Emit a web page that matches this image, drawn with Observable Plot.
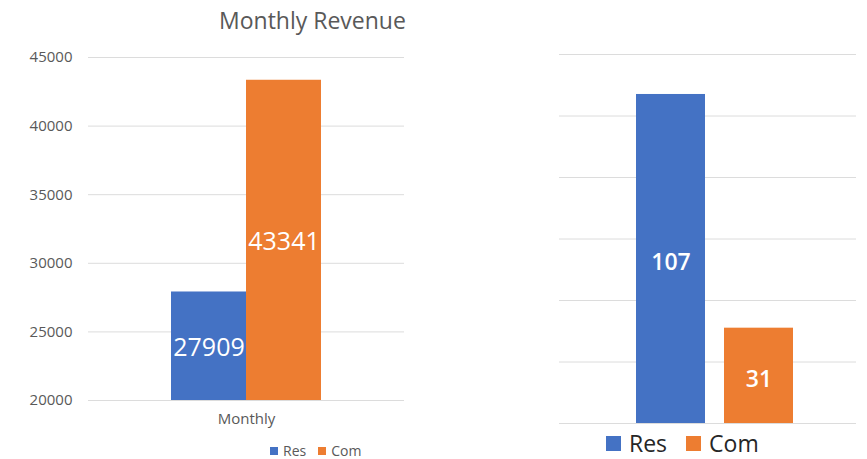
<!DOCTYPE html>
<html><head><meta charset="utf-8">
<script src="https://cdn.jsdelivr.net/npm/d3@7"></script>
<script src="https://cdn.jsdelivr.net/npm/@observablehq/plot@0.6"></script>
<style>
body{margin:0;background:#fff;font-family:"Open Sans",sans-serif;}
#wrap{position:relative;width:867px;height:459px;overflow:hidden;background:#fff;}
#left,#right{position:absolute;top:0;}
#left{left:0;} #right{left:430px;}
#title{position:absolute;left:219px;top:9px;font-size:23px;line-height:23px;color:#595959;white-space:nowrap;}
.legend{position:absolute;display:flex;align-items:center;white-space:nowrap;}
.legend .sw{display:inline-block;}
#legL{left:270px;top:443px;font-size:14px;line-height:16px;color:#595959;}
#legL .sw{width:8px;height:8px;margin-right:5px;}
#legL .it{margin-right:12px;display:flex;align-items:center;}
#legR{left:606px;top:431px;font-size:23px;line-height:24px;color:#262626;}
#legR .sw{width:15px;height:15px;margin-right:8px;}
#legR .it{margin-right:19px;display:flex;align-items:center;}
</style></head><body>
<div id="wrap">
  <div id="left"></div>
  <div id="right"></div>
  <div id="title">Monthly Revenue</div>
  <div id="legL" class="legend"></div>
  <div id="legR" class="legend"></div>
</div>
<script>
const seriesNames = ["Res", "Com"];
const seriesColors = ["#4472C4", "#ED7D31"];
const revenueCategory = "Monthly";
const revenueValues = [27909, 43341];
const revenueTicks = [20000, 25000, 30000, 35000, 40000, 45000];
const countValues = [107, 31];
const countTicks = [0, 20, 40, 60, 80, 100, 120];

const revData = seriesNames.map((s, i) => ({series: s, value: revenueValues[i]}));
const cntData = seriesNames.map((s, i) => ({series: s, value: countValues[i]}));
const yMin = revenueTicks[0];

const left = Plot.plot({
  width: 430, height: 459,
  marginLeft: 88, marginRight: 26, marginTop: 57, marginBottom: 59,
  style: {fontFamily: "Open Sans", fontSize: "15px", color: "#595959", background: "transparent"},
  x: {type: "band", domain: seriesNames, range: [170, 321], padding: 0, axis: null},
  y: {domain: [revenueTicks[0], revenueTicks[revenueTicks.length - 1]], ticks: revenueTicks,
      tickSize: 0, tickPadding: 16, tickFormat: d => String(d), label: null},
  color: {domain: seriesNames, range: seriesColors},
  marks: [
    Plot.ruleY(revenueTicks, {stroke: "#dcdcdc", strokeWidth: 1}),
    Plot.barY(revData, {x: "series", y1: () => yMin, y2: "value", fill: "series"}),
    Plot.text(revData, {x: "series", y: d => (yMin + d.value) / 2, text: d => String(d.value),
      fill: "white", fontSize: 25, dy: 2}),
    Plot.text([revenueCategory], {frameAnchor: "bottom", dy: 23, fill: "#595959", fontSize: 15})
  ]
});
document.getElementById("left").appendChild(left);

const right = Plot.plot({
  width: 437, height: 459,
  marginLeft: 129, marginRight: 11, marginTop: 54, marginBottom: 36,
  style: {fontFamily: "Open Sans", background: "transparent"},
  x: {type: "band", domain: seriesNames, range: [206, 363], paddingInner: 0.216, paddingOuter: 0, axis: null},
  y: {domain: [countTicks[0], countTicks[countTicks.length - 1]], axis: null},
  color: {domain: seriesNames, range: seriesColors},
  marks: [
    Plot.ruleY(countTicks, {stroke: "#dcdcdc", strokeWidth: 1}),
    Plot.barY(cntData, {x: "series", y: "value", fill: "series"}),
    Plot.text(cntData, {x: "series", y: d => d.value / 2, text: d => String(d.value),
      fill: "white", fontSize: 23, fontWeight: 600, dy: 4})
  ]
});
document.getElementById("right").appendChild(right);

function legend(id) {
  const el = document.getElementById(id);
  seriesNames.forEach((s, i) => {
    const it = document.createElement("span");
    it.className = "it";
    const sw = document.createElement("span");
    sw.className = "sw";
    sw.style.background = seriesColors[i];
    it.appendChild(sw);
    it.appendChild(document.createTextNode(s));
    el.appendChild(it);
  });
}
legend("legL");
legend("legR");
</script>
</body></html>
